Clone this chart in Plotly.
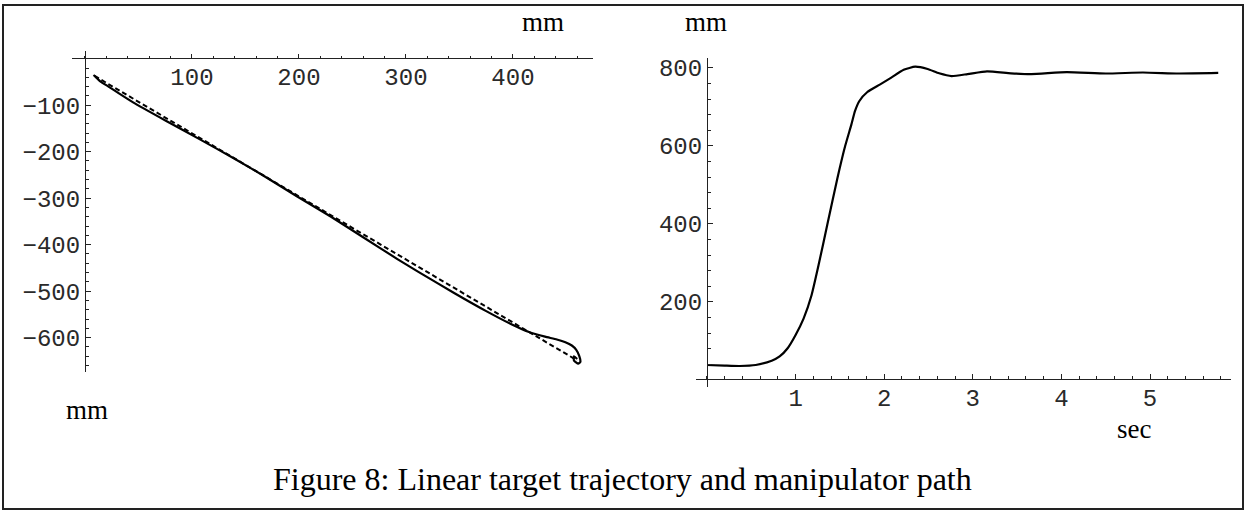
import plotly.graph_objects as go

W, H = 1246, 512

# Left panel: manipulator path (solid) and linear target trajectory (dashed), mm
path_x = [8, 10, 14, 22, 30, 45, 76, 107, 139, 170, 198, 230, 260, 292, 312, 345, 375, 401, 415, 430, 441, 449, 455, 459, 462, 463, 461, 457, 457, 460]
path_y = [-35, -39, -48, -60, -72, -94, -134, -173, -214, -256, -296, -340, -384, -431, -459, -504, -543, -574, -588, -598, -604, -610, -617, -626, -640, -652, -656, -649, -640, -646]
target_x = [9, 460]
target_y = [-37, -649]

# Right panel: distance vs time
t_sec = [0.0, 0.2, 0.37, 0.55, 0.73, 0.82, 0.91, 1.0, 1.09, 1.18, 1.26, 1.36, 1.47, 1.56, 1.63, 1.67, 1.72, 1.81, 1.95, 2.08,
         2.22, 2.35, 2.49, 2.62, 2.76, 2.94, 3.16, 3.43, 3.66, 4.06, 4.5, 4.92, 5.32, 5.77]
dist_mm = [38, 36.5, 35.5, 38, 49, 60, 81, 115, 157, 217, 295, 400, 515, 600, 655, 689, 715, 738, 757, 775,
           795, 803, 797, 786, 779, 784, 791, 786, 784, 789, 785.5, 788, 785.5, 787]

xticks_left = [100, 200, 300, 400]
yticks_left = [-100, -200, -300, -400, -500, -600]
xticks_right = [1, 2, 3, 4, 5]
yticks_right = [200, 400, 600, 800]

def px(x):
    return x / W

def py(y):
    return 1 - y / H

mono = dict(family="Liberation Mono", size=24, color="#2a2a2a")
serif = "Liberation Serif"

fig = go.Figure()
fig.add_trace(go.Scatter(x=path_x, y=path_y, xaxis="x", yaxis="y", mode="lines",
                         line=dict(color="black", width=2.2, shape="spline", smoothing=0.5), showlegend=False))
fig.add_trace(go.Scatter(x=target_x, y=target_y, xaxis="x", yaxis="y", mode="lines",
                         line=dict(color="black", width=2, dash="5px,3px"), showlegend=False))
fig.add_trace(go.Scatter(x=t_sec, y=dist_mm, xaxis="x2", yaxis="y2", mode="lines",
                         line=dict(color="black", width=2.2, shape="spline", smoothing=0.5), showlegend=False))

axis_common = dict(showline=True, linecolor="#222", linewidth=1.2, ticks="inside", ticklen=4.5,
                   tickcolor="#222", tickwidth=1.2, showgrid=False, zeroline=False, tickfont=mono,
                   fixedrange=True)
minor_common = dict(ticks="inside", tick0=0, ticklen=2.5, tickcolor="#222", tickwidth=1)

fig.update_layout(
    width=W, height=H,
    margin=dict(l=0, r=0, t=0, b=0),
    paper_bgcolor="white", plot_bgcolor="white",
    xaxis=dict(domain=[px(72), px(593)], range=[-12.1, 474.8], anchor="free", position=py(56.7),
               side="bottom", tickvals=xticks_left, ticktext=[str(v) for v in xticks_left],
               ticklabelstandoff=-3, minor=dict(dtick=20, **minor_common), **axis_common),
    yaxis=dict(domain=[py(371), py(49)], range=[-673, 17], anchor="free", position=px(85),
               side="left", tickvals=yticks_left, ticktext=["\u2212" + str(-v) for v in yticks_left],
               minor=dict(dtick=20, **minor_common), **axis_common),
    xaxis2=dict(domain=[px(696), px(1231)], range=[-0.124, 5.914], anchor="free", position=py(378.5),
                side="bottom", tickvals=xticks_right, ticktext=[str(v) for v in xticks_right],
                ticklabelstandoff=-3, minor=dict(dtick=0.2, **minor_common), **axis_common),
    yaxis2=dict(domain=[py(386.7), py(56.7)], range=[-18.9, 824], anchor="free", position=px(707),
                side="left", tickvals=yticks_right, ticktext=[str(v) for v in yticks_right],
                minor=dict(dtick=40, **minor_common), **axis_common),
    shapes=[dict(type="rect", xref="paper", yref="paper", x0=px(3), x1=px(1243), y0=py(509), y1=py(3),
                 line=dict(color="#222", width=2))],
)

def label(text, x, y, size):
    fig.add_annotation(text=text, xref="paper", yref="paper", x=px(x), y=py(y),
                       xanchor="center", yanchor="middle", showarrow=False,
                       font=dict(family=serif, size=size, color="black"))

label("mm", 543, 20, 27)
label("mm", 87, 410, 27)
label("mm", 706, 20, 27)
label("sec", 1134, 429, 27)
label("Figure 8: Linear target trajectory and manipulator path", 622, 479, 32)

fig.write_html("out.html", config={"displayModeBar": False},
               post_script="document.body.style.margin='0';document.body.style.overflow='hidden';")
